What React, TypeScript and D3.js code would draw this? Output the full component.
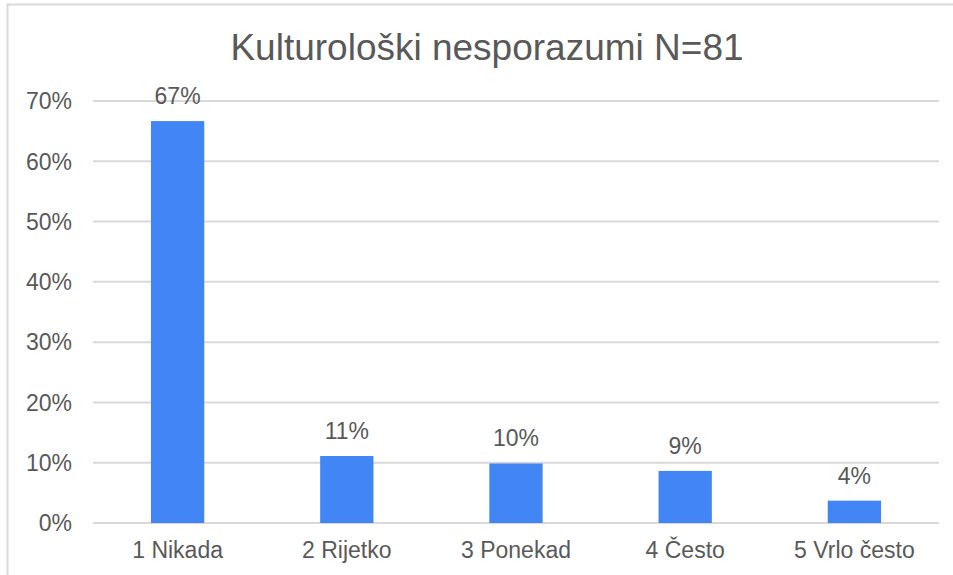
import * as d3 from "d3";

// values (N=81)
const categories = ["1 Nikada", "2 Rijetko", "3 Ponekad", "4 Često", "5 Vrlo često"];
const counts = [54, 9, 8, 7, 3];
const total = 81;
const percents = counts.map((c) => c / total);
const yTicks = [0, 0.1, 0.2, 0.3, 0.4, 0.5, 0.6, 0.7];

const W = 953;
const H = 575;
const left = 93;
const right = 939;
const top = 101;
const bottom = 523;
const textColor = "#595959";
const gridColor = "#d9d9d9";
const barColor = "#4285f4";
const font = "'Liberation Sans', Arial, sans-serif";

export default function App() {
  const x = d3.scaleBand<string>().domain(categories).range([left, right]).paddingInner(0.685).paddingOuter(0.3425);
  const y = d3.scaleLinear().domain([0, 0.7]).range([bottom, top]);
  const pct = d3.format(".0%");

  return (
    <svg width={W} height={H} style={{ position: "absolute", left: 0, top: 0, background: "#fff" }} fontFamily={font}>
      <rect x={7.5} y={4.5} width={W + 20} height={H + 20} fill="#fff" stroke={gridColor} strokeWidth={2} />
      <text x={487} y={60} textAnchor="middle" fontSize={37} fill={textColor}>
        Kulturološki nesporazumi N=81
      </text>
      {yTicks.map((t) => (
        <g key={t}>
          <line x1={left} x2={right} y1={y(t)} y2={y(t)} stroke={gridColor} strokeWidth={2} />
          <text x={72} y={y(t)} dy="0.36em" textAnchor="end" fontSize={23} fill={textColor}>
            {pct(t)}
          </text>
        </g>
      ))}
      {categories.map((c, i) => (
        <g key={c}>
          <rect x={x(c)} y={y(percents[i])} width={x.bandwidth()} height={y(0) - y(percents[i])} fill={barColor} />
          <text x={x(c)! + x.bandwidth() / 2} y={y(percents[i]) - 17} textAnchor="middle" fontSize={23} fill={textColor}>
            {pct(percents[i])}
          </text>
          <text x={x(c)! + x.bandwidth() / 2} y={558} textAnchor="middle" fontSize={23} fill={textColor}>
            {c}
          </text>
        </g>
      ))}
    </svg>
  );
}
